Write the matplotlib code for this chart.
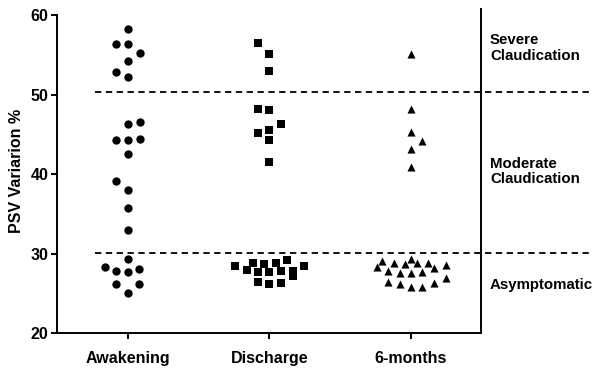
import matplotlib
matplotlib.use("Agg")
import matplotlib.pyplot as plt

# groups on the x axis
groups = ["Awakening", "Discharge", "6-months"]

# PSV variation values, with small sideways offsets
# (in category units) so overlapping points spread out like the original
awakening_vals = [58.3, 56.4, 56.4, 55.3, 54.2, 52.9, 52.3,
                  46.6, 46.3, 44.5, 44.3, 44.3, 42.5, 39.2, 38.0, 35.8, 33.0,
                  29.3, 28.4, 28.1, 27.8, 27.7, 26.2, 26.2, 25.1]
awakening_dx = [0, -0.08, 0, 0.083, 0, -0.08, 0,
                0.083, 0, 0.083, -0.08, 0, 0, -0.08, 0, 0, 0,
                0, -0.163, 0.08, -0.08, 0, -0.08, 0.08, 0]

discharge_vals = [56.5, 55.2, 53.0, 48.2, 48.1, 46.3, 45.6, 45.2, 44.3, 41.6,
                  29.2, 28.9, 28.9, 28.7, 28.5, 28.5, 28.0, 27.9, 27.8, 27.7,
                  27.7, 27.2, 26.4, 26.3, 26.2]
discharge_dx = [-0.076, 0, 0, -0.076, 0, 0.083, 0, -0.076, 0, 0,
                0.126, -0.118, 0.045, -0.035, -0.241, 0.248, -0.158, 0.165, 0.083, -0.076,
                0, 0.165, -0.076, 0.083, 0]

sixmonth_vals = [55.2, 48.2, 45.3, 44.2, 43.2, 40.9,
                 29.4, 29.1, 28.8, 28.7, 28.8, 28.8, 28.6, 28.3, 28.2, 27.9,
                 27.6, 27.6, 27.7, 27.0, 26.4, 26.2, 25.8, 25.8, 26.3]
sixmonth_dx = [0, 0, 0, 0.082, 0, 0,
               0, -0.2, -0.118, -0.04, 0.043, 0.125, 0.25, -0.241, 0.165, -0.159,
               -0.076, 0, 0.082, 0.25, -0.159, -0.076, 0, 0.082, 0.165]

# cut-offs between the clinical classes
thresholds = [50.3, 30.1]
zone_labels = ["Severe\nClaudication", "Moderate\nClaudication", "Asymptomatic"]
zone_label_y = [55.9, 40.4, 26.1]

yticks = [20, 30, 40, 50, 60]

plt.rcParams['font.family'] = ['Liberation Sans', 'DejaVu Sans']
plt.rcParams['font.weight'] = 'bold'

fig = plt.figure(figsize=(5.97, 3.68), dpi=100)
ax = fig.add_axes([0.0955, 0.0942, 0.711, 0.8813])

series = [(awakening_vals, awakening_dx, 'o', 36),
          (discharge_vals, discharge_dx, 's', 32),
          (sixmonth_vals, sixmonth_dx, '^', 34)]
for i, (vals, dx, mk, size) in enumerate(series):
    xs = [i + d for d in dx]
    ax.scatter(xs, vals, marker=mk, s=size, color='black', linewidths=0, zorder=3)

# dashed class limits, running past the right axis line
for t in thresholds:
    ax.plot([-0.23, 3.28], [t, t], color='black', linestyle=(0, (3.5, 2.5)),
            linewidth=1.3, clip_on=False, zorder=2)

for lab, y in zip(zone_labels, zone_label_y):
    ax.text(2.56, y, lab, ha='left', va='center', fontsize=10.8,
            fontweight='bold', linespacing=1.1)

ax.set_xlim(-0.5, 2.5)
ax.set_ylim(20, 60.8)
ax.set_xticks(range(len(groups)))
ax.set_xticklabels(groups, fontsize=11.5, fontweight='bold')
ax.set_yticks(yticks)
ax.set_yticklabels([str(v) for v in yticks], fontsize=11.5, fontweight='bold')
ax.set_ylabel("PSV Variarion %", fontsize=11.5, fontweight='bold', labelpad=5)

ax.spines['top'].set_visible(False)
ax.spines['left'].set_bounds(20, 60)
for s in ['left', 'bottom', 'right']:
    ax.spines[s].set_linewidth(1.4)
ax.tick_params(axis='both', direction='out', length=4, width=1.4, pad=2)
ax.tick_params(axis='x', pad=9)

fig.savefig("out.png", dpi=100)
